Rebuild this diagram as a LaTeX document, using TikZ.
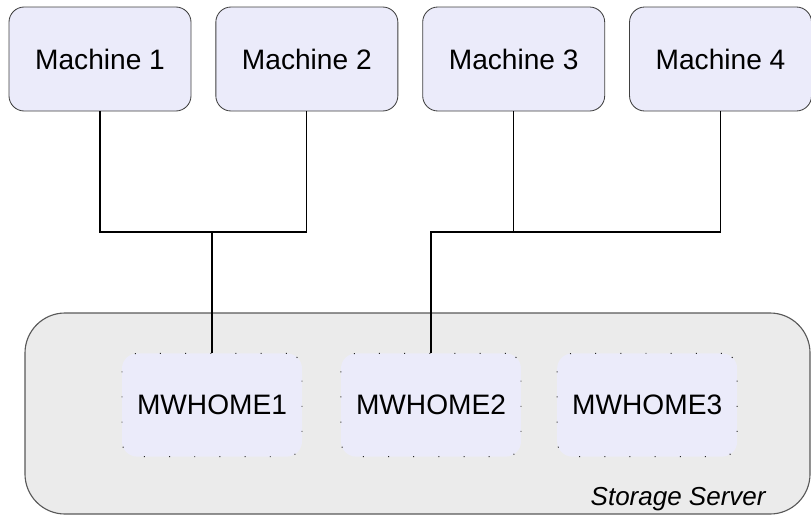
\documentclass[tikz,border=0pt]{standalone}
\usepackage{fontspec}
\setmainfont{Liberation Sans}
\usepackage{tikz}
\usetikzlibrary{positioning}
\usepackage{xcolor}
\definecolor{boxfill}{HTML}{EBEBFA}
\definecolor{serverfill}{HTML}{EBEBEB}

\begin{document}
\begin{tikzpicture}[
  font=\fontsize{20}{24}\selectfont,
    node distance=.6cm,
    machine/.style={draw=black!75, line width=.6pt, fill=boxfill, rounded corners=.38cm,
      minimum width=4.55cm, minimum height=2.6cm, inner sep=0pt},
    home/.style={draw=black!85, line width=.7pt, dash pattern=on .7pt off 17.2pt, fill=boxfill,
      rounded corners=.38cm, minimum width=4.5cm, minimum height=2.58cm, inner sep=0pt},
    server/.style={draw=black!65, line width=.8pt, fill=serverfill, rounded corners=1cm,
      minimum width=19.625cm, minimum height=5.025cm, inner sep=0pt},
    wire/.style={black, line width=.8pt}
]
\useasboundingbox (0,0) rectangle (20.275,-12.875);

% Storage server
\node[server] (srv) at (10.4375,-10.3375) {};
\node[font=\fontsize{18.5}{22}\selectfont\itshape, anchor=south east]
  (srvlabel) at ([xshift=-1cm, yshift=-.02cm]srv.south east) {Storage Server};

% Machines
\node[machine] (M1) at (2.5,-1.475) {Machine 1};
\node[machine, right=of M1] (M2) {Machine 2};
\node[machine, right=of M2] (M3) {Machine 3};
\node[machine, right=of M3] (M4) {Machine 4};

% Home directories
\node[home] (H1) at (5.3,-10.125) {MWHOME1};
\node[home, right=.95cm of H1] (H2) {MWHOME2};
\node[home, right=.88cm of H2] (H3) {MWHOME3};

% Junctions
\coordinate (J1) at (H1.north |- 0,-5.8);
\coordinate (J2) at (H2.north |- 0,-5.8);

% Wires
\draw[wire] (M1.south) -- (M1.south |- J1) -- (M2.south |- J1) -- (M2.south);
\draw[wire] (J1) -- (H1.north);
\draw[wire] (M3.south) -- (M3.south |- J2);
\draw[wire] (M4.south) -- (M4.south |- J2) -- (J2) -- (H2.north);

\end{tikzpicture}
\end{document}
